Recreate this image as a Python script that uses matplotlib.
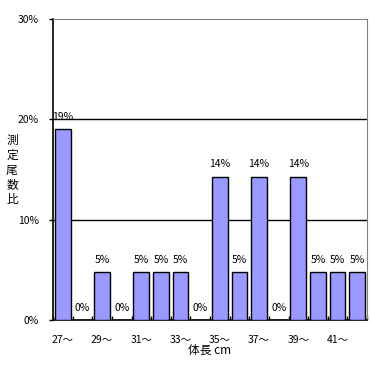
import matplotlib
matplotlib.use("Agg")
import matplotlib.pyplot as plt
import numpy as np

plt.rcParams['font.family'] = ['Noto Sans CJK JP', 'DejaVu Sans']

# データ
categories = ["27～", "28～", "29～", "30～", "31～", "32～", "33～", "34～",
              "35～", "36～", "37～", "38～", "39～", "40～", "41～", "42～"]
ratios = [19.0, 0, 4.8, 0, 4.8, 4.8, 4.8, 0,
          14.3, 4.8, 14.3, 0, 14.3, 4.8, 4.8, 4.8]
y_ticks = [0, 10, 20, 30]
y_label = "測定尾数比"

fig = plt.figure(figsize=(3.72, 3.65), dpi=100)
ax = fig.add_axes([0.1425, 0.1233, 0.8441, 0.8247])

x = np.arange(len(categories))
ax.bar(x, ratios, width=0.8, color="#9999FF", edgecolor="black", linewidth=1, zorder=3)

for xi, v in zip(x, ratios):
    ax.text(xi, v + 0.7, f"{round(v)}%", ha="center", va="bottom", fontsize=7.5, zorder=4)

ax.set_xlim(-0.5, len(categories) - 0.5)
ax.set_ylim(0, 30)
ax.set_yticks(y_ticks)
ax.set_yticklabels([f"{t}%" for t in y_ticks], fontsize=7.5)
ax.tick_params(axis="y", length=3, width=1, direction="out", pad=7)

ax.set_xticks(x[::2])
ax.set_xticklabels(categories[::2], fontsize=7.5)
ax.tick_params(axis="x", which="major", length=0, pad=11)
ax.set_xticks(np.arange(len(categories) + 1) - 0.5, minor=True)
ax.tick_params(axis="x", which="minor", length=3, width=1, direction="in")

for t in [10, 20]:
    ax.axhline(t, color="black", linewidth=1, zorder=1)

ax.spines["left"].set_color("black")
ax.spines["bottom"].set_color("black")
ax.spines["left"].set_linewidth(1.2)
ax.spines["bottom"].set_linewidth(1.2)
ax.spines["top"].set_color("#808080")
ax.spines["right"].set_color("#808080")

ax.set_xlabel("体長 cm", fontsize=8.5, labelpad=-1)

# 縦書きの軸ラベル
for i, ch in enumerate(y_label):
    fig.text(12 / 372, 1 - (140 + 15 * i) / 365, ch, fontsize=8.5, ha="center", va="center")

fig.savefig("out.png", dpi=100)
